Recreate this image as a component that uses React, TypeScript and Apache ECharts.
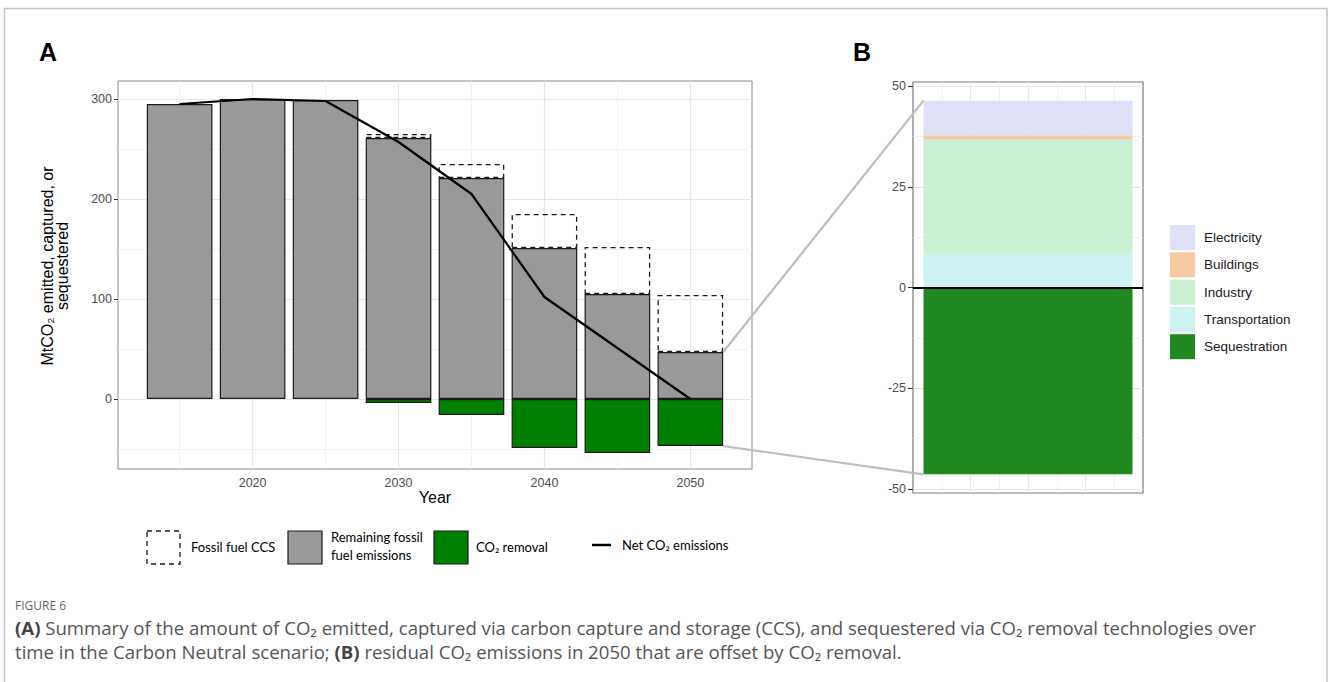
import React, { useEffect, useRef } from "react";
import * as echarts from "echarts";

// ---------------- data ----------------
const years = [2015, 2020, 2025, 2030, 2035, 2040, 2045, 2050];
const remainingFossil = [295, 300, 299, 261, 221, 151, 105, 47];
const fossilCCS = [0, 0, 0, 4, 14, 34, 47, 57];
const co2Removal = [0, 0, 0, -4, -16, -49, -54, -47];
const netEmissions = [295, 300, 298, 257, 205, 102, 51, 0];

const sectorNames = ["Transportation", "Industry", "Buildings", "Electricity"];
const sectorValues = [8.4, 28.5, 0.9, 8.6];
const sequestrationValue = -46.4;
const legendBOrder = ["Electricity", "Buildings", "Industry", "Transportation", "Sequestration"];

const xTicksA = [2020, 2030, 2040, 2050];
const xMinorA = [2015, 2025, 2035, 2045];
const yTicksA = [0, 100, 200, 300];
const yMinorA = [-50, 50, 150, 250];
const yTicksB = [-50, -25, 0, 25, 50];
const yMinorB = [-37.5, -12.5, 12.5, 37.5];
const xGridB = [1, 2, 3, 4, 5, 6, 7];

// ---------------- layout / style ----------------
const GA = { left: 118, top: 81, width: 634, height: 388 };
const GB = { left: 913, top: 82, width: 230, height: 411 };
const X_MIN_A = 2010.775;
const X_MAX_A = 2054.225;
const Y_MIN_A = -70;
const Y_MAX_A = 318;
const Y_LIM_B = 51.04;
const X_MAX_B = 8;
const BAR_YEARS = 4.5;
const BAR_B_UNITS = 7.27;
const B_CENTER = 4;

const sectorColors: Record<string, string> = {
  Electricity: "#e0e0f6",
  Buildings: "#f8c8a0",
  Industry: "#ccf0d3",
  Transportation: "#ccf3f2",
  Sequestration: "#1f891f",
};

const AX_FONT = "'Liberation Sans', Arial, sans-serif";
const LEG_FONT = "Lato, 'Liberation Sans', sans-serif";
const CAP_FONT = "'Open Sans', 'Noto Sans', sans-serif";

export default function App() {
  const ref = useRef<HTMLDivElement>(null);

  useEffect(() => {
    if (!ref.current) return;
    const chart = echarts.init(ref.current, undefined, { renderer: "svg" });

    const pxPerYear = GA.width / (X_MAX_A - X_MIN_A);
    const barWidthA = BAR_YEARS * pxPerYear;
    const barWidthB = (BAR_B_UNITS / X_MAX_B) * GB.width;

    const gridLine = (axis: "xAxis" | "yAxis", v: number, major: boolean) => ({
      [axis]: v,
      lineStyle: { color: major ? "#e6e6e6" : "#f0f0f0", width: major ? 1.2 : 0.8, type: "solid" },
    });

    const zeroBorder = (v: number) => (v === 0 ? { borderWidth: 0 } : undefined);
    // value first, position second, so the stacked dimension is the value one
    const stackEncode = { x: 1, y: 0 };

    const series: any[] = [
      // grid lines A
      {
        type: "line",
        xAxisIndex: 0,
        yAxisIndex: 0,
        data: [],
        silent: true,
        markLine: {
          silent: true,
          z: 1,
          symbol: ["none", "none"],
          label: { show: false },
          emphasis: { disabled: true },
          data: [
            ...xTicksA.map((v) => gridLine("xAxis", v, true)),
            ...xMinorA.map((v) => gridLine("xAxis", v, false)),
            ...yTicksA.map((v) => gridLine("yAxis", v, true)),
            ...yMinorA.map((v) => gridLine("yAxis", v, false)),
          ],
        },
      },
      {
        name: "Remaining fossil fuel emissions",
        type: "bar",
        xAxisIndex: 0,
        yAxisIndex: 0,
        stack: "A",
        barWidth: barWidthA,
        z: 2,
        encode: stackEncode,
        data: years.map((y, i) => [remainingFossil[i], y]),
        itemStyle: { color: "#999999", borderColor: "#1a1a1a", borderWidth: 1.2 },
      },
      {
        name: "Fossil fuel CCS",
        type: "bar",
        xAxisIndex: 0,
        yAxisIndex: 0,
        stack: "A",
        barWidth: barWidthA,
        z: 2,
        encode: stackEncode,
        data: years.map((y, i) => ({ value: [fossilCCS[i], y], itemStyle: zeroBorder(fossilCCS[i]) })),
        itemStyle: { color: "rgba(0,0,0,0)", borderColor: "#1a1a1a", borderWidth: 1.3, borderType: [5, 4] },
      },
      {
        name: "CO₂ removal",
        type: "bar",
        xAxisIndex: 0,
        yAxisIndex: 0,
        stack: "A",
        barWidth: barWidthA,
        z: 2,
        encode: stackEncode,
        data: years.map((y, i) => ({ value: [co2Removal[i], y], itemStyle: zeroBorder(co2Removal[i]) })),
        itemStyle: { color: "#008000", borderColor: "#1a1a1a", borderWidth: 1.2 },
      },
      {
        name: "Net CO₂ emissions",
        type: "line",
        xAxisIndex: 0,
        yAxisIndex: 0,
        z: 3,
        showSymbol: false,
        symbol: "none",
        data: years.map((y, i) => [y, netEmissions[i]]),
        lineStyle: { color: "#000", width: 2.2 },
      },
      // grid lines B
      {
        type: "line",
        xAxisIndex: 1,
        yAxisIndex: 1,
        data: [],
        silent: true,
        markLine: {
          silent: true,
          z: 1,
          symbol: ["none", "none"],
          label: { show: false },
          emphasis: { disabled: true },
          data: [
            ...xGridB.map((v) => gridLine("xAxis", v, v % 2 === 0)),
            ...yTicksB.map((v) => gridLine("yAxis", v, true)),
            ...yMinorB.map((v) => gridLine("yAxis", v, false)),
          ],
        },
      },
      ...sectorNames.map((name, i) => ({
        name,
        type: "bar",
        xAxisIndex: 1,
        yAxisIndex: 1,
        stack: "B",
        barWidth: barWidthB,
        z: 2,
        encode: stackEncode,
        data: [[sectorValues[i], B_CENTER]],
        itemStyle: { color: sectorColors[name] },
      })),
      {
        name: "Sequestration",
        type: "bar",
        xAxisIndex: 1,
        yAxisIndex: 1,
        stack: "B",
        barWidth: barWidthB,
        z: 2,
        encode: stackEncode,
        data: [[sequestrationValue, B_CENTER]],
        itemStyle: { color: sectorColors.Sequestration },
        markLine: {
          silent: true,
          z: 6,
          symbol: ["none", "none"],
          label: { show: false },
          emphasis: { disabled: true },
          data: [{ yAxis: 0, lineStyle: { color: "#000", width: 2, type: "solid" } }],
        },
      },
    ];

    const axisLabelStyle = {
      color: "#4d4d4d",
      fontSize: 12.5,
      fontFamily: AX_FONT,
      formatter: (v: number) => String(v),
    };

    const option: any = {
      animation: false,
      backgroundColor: "#ffffff",
      grid: [
        { ...GA, show: true, borderColor: "#8a8a8a", borderWidth: 1, backgroundColor: "#fff" },
        { ...GB, show: true, borderColor: "#7a7a7a", borderWidth: 1.2, backgroundColor: "#fff" },
      ],
      xAxis: [
        {
          type: "value",
          gridIndex: 0,
          min: X_MIN_A,
          max: X_MAX_A,
          axisLine: { show: false },
          splitLine: { show: false },
          axisTick: { show: true, customValues: xTicksA, length: 4, lineStyle: { color: "#333" } },
          axisLabel: { ...axisLabelStyle, customValues: xTicksA, margin: 7 },
        },
        {
          type: "value",
          gridIndex: 1,
          min: 0,
          max: X_MAX_B,
          axisLine: { show: false },
          splitLine: { show: false },
          axisTick: { show: false },
          axisLabel: { show: false },
        },
      ],
      yAxis: [
        {
          type: "value",
          gridIndex: 0,
          min: Y_MIN_A,
          max: Y_MAX_A,
          axisLine: { show: false },
          splitLine: { show: false },
          axisTick: { show: true, customValues: yTicksA, length: 4, lineStyle: { color: "#333" } },
          axisLabel: { ...axisLabelStyle, customValues: yTicksA, margin: 6 },
        },
        {
          type: "value",
          gridIndex: 1,
          min: -Y_LIM_B,
          max: Y_LIM_B,
          axisLine: { show: false },
          splitLine: { show: false },
          axisTick: { show: true, customValues: yTicksB, length: 5, lineStyle: { color: "#333" } },
          axisLabel: { ...axisLabelStyle, customValues: yTicksB, margin: 7 },
        },
      ],
      legend: {
        data: legendBOrder,
        orient: "vertical",
        left: 1170,
        top: 225,
        padding: 0,
        itemWidth: 25,
        itemHeight: 25,
        itemGap: 2.3,
        icon: "rect",
        selectedMode: false,
        textStyle: { fontSize: 13.5, color: "#1a1a1a", fontFamily: AX_FONT, padding: [0, 0, 0, 4] },
      },
      series,
    };

    chart.setOption(option);

    // connectors between panel A (2050 bar) and panel B
    const idx2050 = years.indexOf(2050);
    const aTop = chart.convertToPixel({ gridIndex: 0 }, [2050 + BAR_YEARS / 2, remainingFossil[idx2050]]) as number[];
    const aBot = chart.convertToPixel({ gridIndex: 0 }, [2050 + BAR_YEARS / 2, co2Removal[idx2050]]) as number[];
    const sectorTotal = sectorValues.reduce((s, v) => s + v, 0);
    const bTop = chart.convertToPixel({ gridIndex: 1 }, [B_CENTER - BAR_B_UNITS / 2, sectorTotal]) as number[];
    const bBot = chart.convertToPixel({ gridIndex: 1 }, [B_CENTER - BAR_B_UNITS / 2, sequestrationValue]) as number[];

    const txt = (x: number, y: number, text: string, extra: any = {}) => ({
      type: "text",
      x,
      y,
      silent: true,
      style: { text, fill: "#000", fontSize: 13, fontFamily: LEG_FONT, verticalAlign: "middle", ...extra },
    });

    const capRich = { b: { fontWeight: "bold", fill: "#444", fontSize: 18.6, fontFamily: CAP_FONT } };

    const graphics: any[] = [
      // outer frame
      {
        type: "polyline",
        silent: true,
        shape: { points: [[4.5, 700], [4.5, 8.5], [1327, 8.5], [1327, 700]] },
        style: { stroke: "#c4c4c4", lineWidth: 1.5, fill: "none" },
      },
      {
        type: "line",
        silent: true,
        shape: { x1: aTop[0], y1: aTop[1], x2: bTop[0], y2: bTop[1] },
        style: { stroke: "#bdbdbd", lineWidth: 2.2 },
        z: 10,
      },
      {
        type: "line",
        silent: true,
        shape: { x1: aBot[0], y1: aBot[1], x2: bBot[0], y2: bBot[1] },
        style: { stroke: "#bdbdbd", lineWidth: 2.2 },
        z: 10,
      },
      // panel labels
      txt(48, 52, "A", { fontSize: 25, fontWeight: "bold", fontFamily: AX_FONT, align: "center" }),
      txt(862, 52, "B", { fontSize: 25, fontWeight: "bold", fontFamily: AX_FONT, align: "center" }),
      // axis titles
      {
        type: "text",
        x: 54.5,
        y: 266,
        rotation: Math.PI / 2,
        silent: true,
        style: {
          text: "MtCO₂ emitted, captured, or\nsequestered",
          align: "center",
          verticalAlign: "middle",
          fontSize: 16,
          lineHeight: 15,
          fill: "#000",
          fontFamily: AX_FONT,
        },
      },
      txt(GA.left + GA.width / 2, 497, "Year", { fontSize: 16, fontFamily: AX_FONT, align: "center" }),
      // legend A
      {
        type: "rect",
        silent: true,
        shape: { x: 147, y: 531, width: 33, height: 33 },
        style: { fill: "none", stroke: "#1a1a1a", lineWidth: 1.3, lineDash: [5, 4] },
      },
      txt(191, 547, "Fossil fuel CCS"),
      {
        type: "rect",
        silent: true,
        shape: { x: 288, y: 531, width: 34, height: 33 },
        style: { fill: "#999999", stroke: "#1a1a1a", lineWidth: 1.2 },
      },
      txt(331, 546, "Remaining fossil\nfuel emissions", { lineHeight: 18 }),
      {
        type: "rect",
        silent: true,
        shape: { x: 434, y: 531, width: 34, height: 33 },
        style: { fill: "#008000", stroke: "#1a1a1a", lineWidth: 1.2 },
      },
      txt(476, 547, "CO₂ removal"),
      {
        type: "line",
        silent: true,
        shape: { x1: 592, y1: 545, x2: 611, y2: 545 },
        style: { stroke: "#000", lineWidth: 2.5 },
      },
      txt(622, 545, "Net CO₂ emissions"),
      // caption
      txt(15, 605, "FIGURE 6", { fontSize: 12, fill: "#666", fontFamily: CAP_FONT }),
      {
        type: "text",
        x: 15,
        y: 627,
        silent: true,
        style: {
          text:
            "{b|(A)} Summary of the amount of CO₂ emitted, captured via carbon capture and storage (CCS), and sequestered via CO₂ removal technologies over",
          fontSize: 18.6,
          fill: "#555",
          fontFamily: CAP_FONT,
          verticalAlign: "middle",
          rich: capRich,
        },
      },
      {
        type: "text",
        x: 15,
        y: 651,
        silent: true,
        style: {
          text: "time in the Carbon Neutral scenario; {b|(B)} residual CO₂ emissions in 2050 that are offset by CO₂ removal.",
          fontSize: 18.6,
          fill: "#555",
          fontFamily: CAP_FONT,
          verticalAlign: "middle",
          rich: capRich,
        },
      },
    ];

    chart.setOption({ graphic: { elements: graphics } });

    return () => {
      chart.dispose();
    };
  }, []);

  return (
    <div
      ref={ref}
      style={{ position: "absolute", left: 0, top: 0, width: 1328, height: 682, background: "#fff" }}
    />
  );
}
